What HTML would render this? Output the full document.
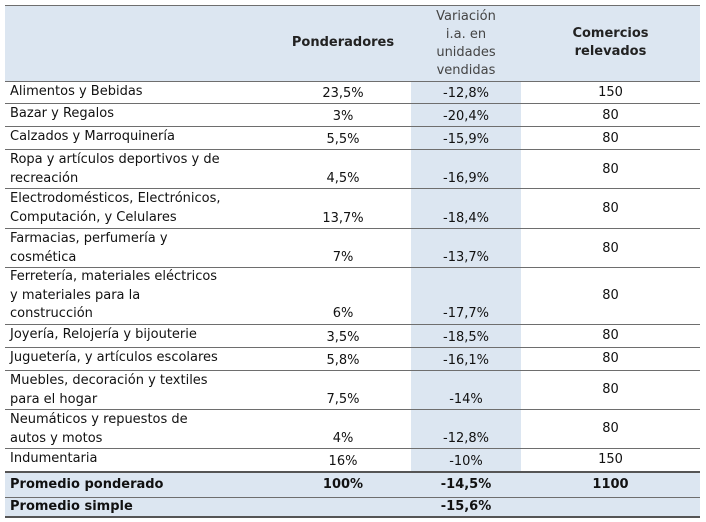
<!DOCTYPE html>
<html><head><meta charset="utf-8"><style>
html,body{margin:0;padding:0;background:#fff;width:706px;height:522px;overflow:hidden}
body{font-family:"DejaVu Sans","Liberation Sans",sans-serif;font-size:13px;color:#111}
table{position:absolute;left:5px;top:5px;border-collapse:collapse;table-layout:fixed;width:695px}
td{padding:0;border-bottom:1px solid #6e6e6e;line-height:19px;vertical-align:bottom}
td.l{padding-left:5px;vertical-align:top;text-align:left}
td.p{text-align:center}
td.v{text-align:center;background:#dce6f1}
td.c{text-align:center;vertical-align:middle}
tr.h td{background:#dce6f1;border-top:1px solid #6e6e6e;line-height:18px;vertical-align:bottom;padding-bottom:1px}
tr.h td.hc{color:#444;}
tr.h td.b{font-weight:bold;vertical-align:middle;color:#222}
tr.f td{line-height:18.5px}
tr.s td{background:#dce6f1;font-weight:bold;vertical-align:middle;border-top:2px solid #555}
tr.s2 td{background:#dce6f1;font-weight:bold;vertical-align:middle;border-bottom:2px solid #555;line-height:18px}
</style></head><body>
<table>
<colgroup><col style="width:270px"><col style="width:136px"><col style="width:110px"><col style="width:179px"></colgroup>
<tr class="h" style="height:76px">
<td></td>
<td class="b" style="text-align:center">Ponderadores</td>
<td class="hc" style="text-align:center">Variación<br>i.a. en<br>unidades<br>vendidas</td>
<td class="b" style="text-align:center">Comercios<br>relevados</td></tr>
<tr style="height:22px"><td class="l">Alimentos y Bebidas</td><td class="p">23,5%</td><td class="v">-12,8%</td><td class="c">150</td></tr>
<tr style="height:23px"><td class="l">Bazar y Regalos</td><td class="p">3%</td><td class="v">-20,4%</td><td class="c">80</td></tr>
<tr style="height:23px"><td class="l">Calzados y Marroquinería</td><td class="p">5,5%</td><td class="v">-15,9%</td><td class="c">80</td></tr>
<tr style="height:39px"><td class="l">Ropa y artículos deportivos y de recreación</td><td class="p">4,5%</td><td class="v">-16,9%</td><td class="c">80</td></tr>
<tr style="height:40px"><td class="l">Electrodomésticos, Electrónicos, Computación, y Celulares</td><td class="p">13,7%</td><td class="v">-18,4%</td><td class="c">80</td></tr>
<tr style="height:39px"><td class="l">Farmacias, perfumería y<br>cosmética</td><td class="p">7%</td><td class="v">-13,7%</td><td class="c">80</td></tr>
<tr class="f" style="height:56px"><td class="l">Ferretería, materiales eléctricos<br>y materiales para la<br>construcción</td><td class="p">6%</td><td class="v">-17,7%</td><td class="c">80</td></tr>
<tr style="height:23px"><td class="l">Joyería, Relojería y bijouterie</td><td class="p">3,5%</td><td class="v">-18,5%</td><td class="c">80</td></tr>
<tr style="height:23px"><td class="l">Juguetería, y artículos escolares</td><td class="p">5,8%</td><td class="v">-16,1%</td><td class="c">80</td></tr>
<tr style="height:39px"><td class="l">Muebles, decoración y textiles<br>para el hogar</td><td class="p">7,5%</td><td class="v">-14%</td><td class="c">80</td></tr>
<tr style="height:39px"><td class="l">Neumáticos y repuestos de<br>autos y motos</td><td class="p">4%</td><td class="v">-12,8%</td><td class="c">80</td></tr>
<tr style="height:24px"><td class="l" style="border-bottom:none">Indumentaria</td><td class="p" style="border-bottom:none">16%</td><td class="v" style="border-bottom:none">-10%</td><td class="c" style="border-bottom:none">150</td></tr>
<tr class="s" style="height:25px"><td class="l" style="vertical-align:middle">Promedio ponderado</td><td class="p">100%</td><td class="p">-14,5%</td><td class="p">1100</td></tr>
<tr class="s2" style="height:19px"><td class="l" style="vertical-align:middle">Promedio simple</td><td class="p"></td><td class="p">-15,6%</td><td class="p"></td></tr>
</table>
</body></html>
